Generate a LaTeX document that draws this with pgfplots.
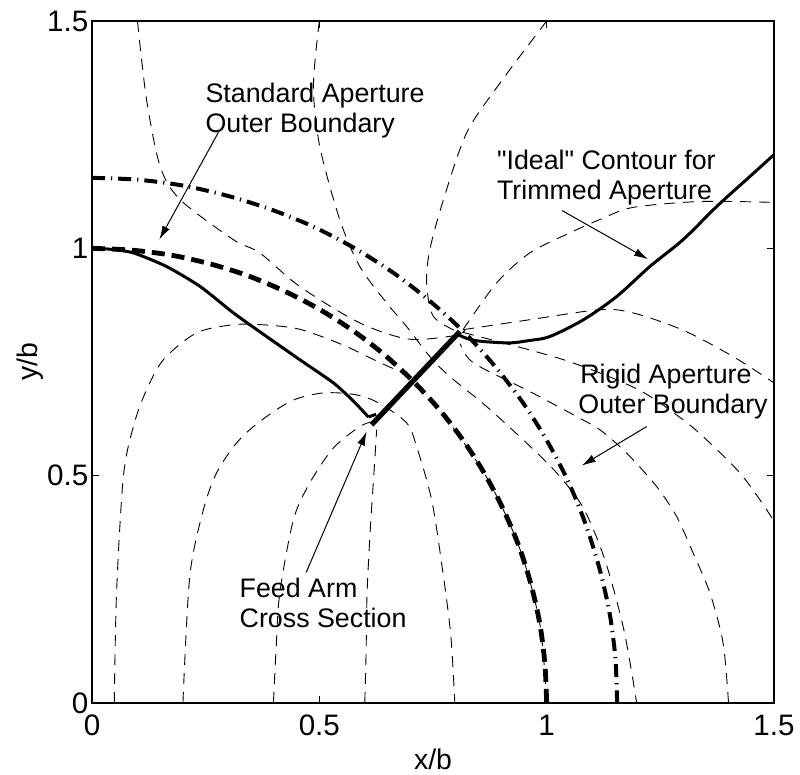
\documentclass[border=0pt]{standalone}
\usepackage{pgfplots}
\pgfplotsset{compat=1.18}
\usepackage{fontspec}
\setmainfont{Liberation Sans}
\newfontfamily\plainquotes{Liberation Sans}[Ligatures=TeXOff]
\usetikzlibrary{calc,arrows.meta}
\begin{document}
\begin{tikzpicture}
\begin{axis}[
  scale only axis, width=341pt, height=341pt,
  xmin=0, xmax=1.5, ymin=0, ymax=1.5,
  xtick={0,0.5,1,1.5}, ytick={0,0.5,1,1.5},
  xticklabels={0,0.5,1,1.5}, yticklabels={0,0.5,1,1.5},
  tick align=inside, major tick length=3.5pt,
  xtick pos=both, ytick pos=both,
  every tick/.style={black, line width=0.5pt},
  axis line style={line width=0.6pt},
  tick label style={font=\fontsize{14.8}{14.8}\selectfont},
  xticklabel style={yshift=-2.3pt},
  yticklabel style={xshift=1.7pt},
  xlabel={x/b}, ylabel={y/b},
  every axis x label/.style={at={(axis description cs:0.5,-0.0977)}, anchor=base, font=\fontsize{14.2}{14.2}\selectfont},
  every axis y label/.style={at={(axis description cs:-0.0802,0.5)}, rotate=90, anchor=base, font=\fontsize{14.2}{14.2}\selectfont},
  clip=true,
]
\pgfplotsset{thin dash/.style={black, line width=0.45pt, dash pattern=on 5.5pt off 4pt, smooth, tension=0.5}}
% arches and lines
\addplot[thin dash] coordinates {(0.049,0) (0.054,0.242) (0.069,0.498) (0.091,0.608) (0.117,0.682) (0.157,0.755) (0.23,0.814) (0.311,0.832) (0.373,0.832) (0.443,0.825) (0.494,0.81) (0.56,0.784) (0.62,0.755) (0.67,0.732) (0.712,0.713)};
\addplot[thin dash] coordinates {(0.2,0) (0.215,0.278) (0.245,0.425) (0.274,0.506) (0.318,0.572) (0.369,0.619) (0.44,0.665) (0.509,0.682) (0.58,0.678) (0.63,0.66) (0.692,0.616) (0.714,0.564) (0.747,0.447) (0.77,0.3) (0.789,0.15) (0.798,0)};
\addplot[thin dash] coordinates {(0.399,0) (0.405,0.12) (0.413,0.242) (0.443,0.403) (0.479,0.484) (0.531,0.561) (0.589,0.608) (0.615,0.618)};
\addplot[thin dash] coordinates {(0.6,0) (0.603,0.12) (0.605,0.242) (0.612,0.38) (0.622,0.535) (0.626,0.601)};
\addplot[thin dash] coordinates {(1,0) (0.985,0.174) (0.940,0.342) (0.866,0.5) (0.766,0.643) (0.72,0.69)};
\addplot[thin dash] coordinates {(1.4,0) (1.388,0.132) (1.359,0.242) (1.322,0.33) (1.286,0.41) (1.242,0.476) (1.19,0.535) (1.161,0.564) (1.117,0.601) (1.066,0.63) (0.963,0.685) (0.839,0.748) (0.81,0.79)};
\addplot[thin dash] coordinates {(0.816,0.821) (0.89,0.924) (0.963,0.99) (1.051,1.034) (1.121,1.065) (1.19,1.09) (1.337,1.103) (1.5,1.101)};
\addplot[thin dash] coordinates {(0.816,0.821) (0.963,0.843) (1.117,0.865) (1.19,0.858) (1.3,0.82) (1.41,0.762) (1.5,0.704)};
\addplot[thin dash] coordinates {(0.816,0.815) (1.037,0.755) (1.2,0.69) (1.3,0.623) (1.359,0.572) (1.425,0.506) (1.469,0.447) (1.5,0.4)};
\addplot[thin dash] coordinates {(0.1,1.5) (0.12,1.327) (0.15,1.18) (0.194,1.107) (0.311,1.019) (0.369,0.99) (0.457,0.916) (0.589,0.836) (0.7,0.8) (0.81,0.81)};
\addplot[thin dash] coordinates {(0.5,1.5) (0.487,1.356) (0.501,1.224) (0.545,1.063) (0.589,0.96) (0.648,0.88) (0.692,0.828) (0.743,0.762) (0.787,0.718) (0.868,0.652) (0.963,0.565) (1.022,0.506) (1.08,0.43) (1.128,0.315) (1.17,0.16) (1.198,0)};
\addplot[thin dash] coordinates {(1.0,1.5) (0.897,1.363) (0.824,1.254) (0.773,1.107) (0.743,0.997) (0.736,0.924) (0.751,0.85) (0.809,0.814)};
% standard aperture r=1 (thick dashed)
\addplot[black, line width=2.4pt, dash pattern=on 6.5pt off 3.5pt, smooth] coordinates {(0,1) (0.087,0.996) (0.174,0.985) (0.259,0.966) (0.342,0.940) (0.423,0.906) (0.5,0.866) (0.574,0.819) (0.643,0.766) (0.707,0.707) (0.766,0.643) (0.819,0.574) (0.866,0.5) (0.906,0.423) (0.940,0.342) (0.966,0.259) (0.985,0.174) (0.996,0.087) (1,0)};
% rigid aperture r=1.155 (dash-dot)
\addplot[black, line width=2pt, dash pattern=on 6.5pt off 3pt on 0.6pt off 3pt, smooth] coordinates {(0,1.155) (0.1,1.151) (0.2,1.138) (0.3,1.115) (0.395,1.085) (0.488,1.047) (0.578,1.0) (0.663,0.946) (0.742,0.885) (0.817,0.817) (0.885,0.742) (0.946,0.663) (1.0,0.578) (1.047,0.488) (1.085,0.395) (1.115,0.3) (1.138,0.2) (1.151,0.1) (1.155,0)};
% ideal contour
\addplot[black, line width=1.5pt, smooth, tension=0.4] coordinates {(0,1.0) (0.04,0.998) (0.091,0.99) (0.164,0.96) (0.238,0.916) (0.311,0.858) (0.384,0.806) (0.457,0.755) (0.531,0.704) (0.575,0.664) (0.608,0.629)};
\addplot[black, line width=1.5pt] coordinates {(0.608,0.629) (0.625,0.635)};
\addplot[black, line width=1.5pt, smooth, tension=0.5] coordinates {(0.805,0.81) (0.83,0.8) (0.861,0.795) (0.919,0.792) (0.96,0.797) (1.007,0.806) (1.081,0.843) (1.154,0.894) (1.227,0.96) (1.30,1.019) (1.374,1.092) (1.447,1.158) (1.5,1.206)};
% feed arm
\addplot[black, line width=2.6pt] coordinates {(0.615,0.612) (0.809,0.817)};
% annotations
\tikzset{ann/.style={anchor=base west, font=\fontsize{13.4}{15}\selectfont, inner sep=0pt}}
\draw[-{Latex[length=7pt,width=4pt]}, line width=0.5pt] (axis cs:0.278,1.255) -- (axis cs:0.148,1.019);
\node[ann] at (axis cs:0.249,1.320) {Standard Aperture};
\node[ann] at (axis cs:0.249,1.254) {Outer Boundary};
\draw[-{Latex[length=7pt,width=4pt]}, line width=0.5pt] (axis cs:1.034,1.083) -- (axis cs:1.223,0.976);
\node[ann] at (axis cs:0.890,1.173) {\plainquotes "Ideal" Contour for};
\node[ann] at (axis cs:0.890,1.107) {Trimmed Aperture};
\draw[-{Latex[length=7pt,width=4pt]}, line width=0.5pt] (axis cs:1.220,0.608) -- (axis cs:1.077,0.522);
\node[ann] at (axis cs:1.073,0.702) {Rigid Aperture};
\node[ann] at (axis cs:1.069,0.636) {Outer Boundary};
\draw[-{Latex[length=7pt,width=4pt]}, line width=0.5pt] (axis cs:0.471,0.287) -- (axis cs:0.604,0.597);
\node[ann] at (axis cs:0.324,0.232) {Feed Arm};
\node[ann] at (axis cs:0.324,0.166) {Cross Section};
\end{axis}
\pgfresetboundingbox
\path ($(current axis.south west)+(-46pt,-36pt)$) rectangle ($(current axis.north east)+(13pt,10.5pt)$);
\end{tikzpicture}
\end{document}
